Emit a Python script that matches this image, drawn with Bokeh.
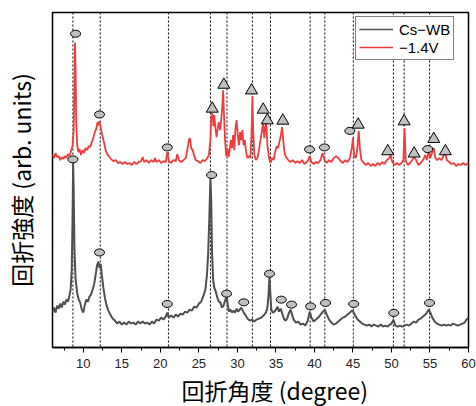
import numpy as np
from bokeh.plotting import figure
from bokeh.models import Span, Title, Legend, LegendItem, FixedTicker
from bokeh.embed import file_html
from bokeh.resources import INLINE

# ---------------- data ----------------
# Red curve: -1.4V  (2theta in degrees, intensity in arb. units)
red_x = [6.0, 6.2, 6.4, 6.6, 6.8, 7.0, 7.2, 7.4, 7.6, 7.8, 8.0, 8.2, 8.4, 8.6, 8.75, 8.85, 8.92, 9.0, 9.08, 9.2,
         9.35, 9.5, 9.7, 9.9, 10.1, 10.3, 10.5, 10.7, 10.9, 11.1, 11.3, 11.5, 11.7, 11.85, 12.0, 12.1, 12.25, 12.4,
         12.55, 12.7, 12.9, 13.1, 13.3, 13.6, 13.9, 14.2, 14.5, 14.8, 15.1, 15.4, 15.7, 16.0, 16.3, 16.6, 16.9,
         17.2, 17.5, 17.7, 17.9, 18.2, 18.5, 18.8, 19.1, 19.3, 19.5, 19.8, 20.1, 20.4, 20.7, 20.9, 21.1, 21.4,
         21.7, 22.0, 22.2, 22.4, 22.7, 23.0, 23.3, 23.5, 23.7, 23.85, 24.0, 24.2, 24.4, 24.6, 24.9, 25.2, 25.5,
         25.8, 26.1, 26.3, 26.5, 26.6, 26.75, 26.9, 27.0, 27.15, 27.3, 27.45, 27.6, 27.75, 27.9, 28.05, 28.15,
         28.25, 28.4, 28.55, 28.7, 28.85, 29.0, 29.15, 29.3, 29.45, 29.6, 29.75, 29.9, 30.05, 30.2, 30.35, 30.5,
         30.65, 30.8, 30.95, 31.1, 31.3, 31.5, 31.7, 31.85, 31.95, 32.05, 32.2, 32.4, 32.6, 32.8, 33.0, 33.2,
         33.35, 33.5, 33.6, 33.75, 33.9, 34.1, 34.3, 34.5, 34.7, 34.9, 35.1, 35.3, 35.5, 35.65, 35.8, 35.95,
         36.1, 36.3, 36.6, 36.9, 37.2, 37.5, 37.8, 38.1, 38.4, 38.7, 39.0, 39.2, 39.4, 39.6, 39.9, 40.2, 40.5,
         40.8, 41.05, 41.3, 41.6, 41.9, 42.2, 42.5, 42.8, 43.1, 43.4, 43.7, 44.0, 44.3, 44.6, 44.85, 45.0, 45.15,
         45.35, 45.55, 45.75, 45.9, 46.1, 46.4, 46.7, 47.0, 47.3, 47.6, 47.9, 48.2, 48.5, 48.8, 49.1, 49.4, 49.7,
         49.9, 50.1, 50.4, 50.7, 51.0, 51.3, 51.55, 51.7, 51.85, 52.1, 52.4, 52.7, 53.0, 53.2, 53.5, 53.8, 54.1,
         54.4, 54.6, 54.85, 55.05, 55.3, 55.5, 55.7, 55.95, 56.2, 56.5, 56.8, 57.0, 57.2, 57.5, 57.8, 58.1, 58.4,
         58.7, 59.0, 59.3, 59.6, 60.0]
red_y = [193, 190, 195, 191, 192, 188, 191, 189, 192, 190, 194, 192, 197, 202, 218, 268, 306, 278, 228, 203,
         196, 199, 193, 198, 195, 200, 198, 202, 201, 206, 210, 216, 220, 226, 223, 227, 221, 215,
         210, 205, 198, 194, 192, 189, 187, 188, 185, 186, 184, 186, 184, 185, 183, 186, 184,
         186, 187, 191, 186, 188, 185, 188, 186, 190, 186, 188, 185, 187, 186, 196, 187, 185,
         188, 187, 194, 188, 186, 188, 190, 198, 208, 210, 200, 198, 192, 188, 187, 185, 188,
         187, 190, 193, 208, 230, 235, 222, 233, 220, 211, 220, 226, 218, 228, 243, 258,
         236, 208, 192, 200, 191, 198, 208, 200, 213, 198, 220, 228, 213, 203, 216, 208,
         218, 203, 208, 198, 190, 192, 190, 218, 252, 218, 193, 188, 190, 198, 208, 218,
         225, 210, 220, 225, 203, 190, 185, 190, 188, 196, 202, 200, 208, 213, 221, 208,
         196, 191, 188, 186, 188, 185, 187, 185, 188, 184, 186, 188, 192, 186, 184, 186, 185,
         188, 195, 188, 185, 188, 186, 190, 192, 190, 187, 185, 188, 186, 190, 200, 210, 193,
         190, 198, 217, 200, 188, 185, 183, 185, 182, 184, 182, 185, 183, 186, 184, 188, 190,
         193, 186, 183, 185, 183, 185, 188, 220, 188, 183, 185, 188, 191, 188, 183, 185, 188,
         193, 188, 198, 190, 196, 200, 190, 188, 190, 188, 193, 194, 188, 186, 184, 185, 182,
         184, 183, 185, 183, 185]

# Black curve: Cs-WB
blk_x = [6.0, 6.2, 6.4, 6.6, 6.8, 7.0, 7.2, 7.4, 7.6, 7.8, 8.0, 8.2, 8.35, 8.5, 8.6, 8.68, 8.75, 8.85, 9.0, 9.2,
         9.4, 9.6, 9.8, 10.0, 10.2, 10.4, 10.6, 10.8, 11.0, 11.2, 11.4, 11.6, 11.8, 11.95, 12.1, 12.25, 12.4,
         12.6, 12.8, 13.0, 13.2, 13.5, 13.8, 14.1, 14.4, 14.7, 15.0, 15.3, 15.6, 15.9, 16.2, 16.5, 16.8, 17.1,
         17.4, 17.7, 18.0, 18.3, 18.6, 18.9, 19.2, 19.5, 19.8, 20.1, 20.4, 20.7, 20.9, 21.1, 21.4, 21.7, 22.0,
         22.3, 22.6, 22.9, 23.2, 23.5, 23.8, 24.1, 24.4, 24.7, 25.0, 25.3, 25.6, 25.85, 26.05, 26.2, 26.35, 26.5,
         26.6, 26.7, 26.85, 27.0, 27.2, 27.4, 27.6, 27.8, 28.0, 28.2, 28.45, 28.6, 28.75, 28.9, 29.1, 29.3, 29.5,
         29.7, 29.9, 30.1, 30.3, 30.5, 30.7, 30.9, 31.1, 31.3, 31.6, 31.9, 32.2, 32.5, 32.8, 33.1, 33.4, 33.7,
         33.9, 34.05, 34.15, 34.25, 34.4, 34.6, 34.8, 35.0, 35.2, 35.4, 35.6, 35.75, 35.9, 36.1, 36.3, 36.5,
         36.7, 36.9, 37.1, 37.3, 37.6, 37.9, 38.2, 38.5, 38.8, 39.1, 39.4, 39.6, 39.9, 40.2, 40.5, 40.8, 41.1,
         41.35, 41.6, 41.9, 42.2, 42.5, 42.8, 43.1, 43.4, 43.7, 44.0, 44.3, 44.6, 44.85, 45.05, 45.3, 45.6,
         45.9, 46.2, 46.5, 46.8, 47.1, 47.4, 47.7, 48.0, 48.3, 48.6, 48.9, 49.2, 49.5, 49.8, 50.0, 50.25, 50.5,
         50.8, 51.1, 51.4, 51.7, 52.0, 52.3, 52.6, 52.9, 53.2, 53.5, 53.8, 54.1, 54.4, 54.6, 54.85, 55.05, 55.3,
         55.6, 55.9, 56.2, 56.5, 56.8, 57.1, 57.4, 57.7, 58.0, 58.3, 58.6, 58.9, 59.2, 59.5, 59.75, 60.0]
blk_y = [36, 40, 35, 42, 39, 44, 40, 46, 43, 48, 46, 52, 58, 78, 128, 185, 158, 98, 68, 55,
         48, 45, 38, 35, 43, 48, 46, 51, 53, 58, 63, 73, 83, 86, 80, 84, 73,
         60, 50, 43, 38, 33, 29, 27, 24, 26, 23, 25, 23, 26, 24, 25, 23, 26,
         24, 26, 24, 25, 23, 26, 24, 28, 27, 30, 28, 31, 35, 30, 32, 30, 33,
         31, 34, 33, 36, 35, 38, 37, 41, 40, 44, 46, 52, 58, 73, 93, 128, 170,
         148, 98, 68, 60, 56, 50, 46, 45, 40, 42, 48, 51, 43, 36, 38, 35, 37,
         35, 39, 36, 38, 40, 37, 34, 32, 29, 27, 28, 26, 28, 29, 30, 32, 35,
         40, 53, 70, 58, 38, 35, 36, 38, 41, 36, 39, 36, 32, 28, 27, 30,
         35, 38, 33, 28, 25, 26, 23, 24, 22, 26, 36, 30, 26, 28, 30, 33, 36,
         38, 33, 28, 25, 23, 24, 26, 28, 30, 31, 33, 35, 37, 36, 32, 28,
         26, 24, 23, 22, 23, 21, 23, 22, 21, 23, 21, 22, 21, 23, 24, 28, 22,
         21, 22, 21, 22, 23, 22, 24, 26, 25, 28, 29, 31, 33, 35, 38, 35, 30,
         26, 24, 23, 22, 23, 22, 23, 22, 24, 23, 22, 23, 24, 25, 28, 30]

# Reference lines (2theta, degrees)
ref_lines = [8.65, 12.2, 21.05, 26.5, 28.65, 31.95, 34.3, 39.45, 41.35, 45.05, 50.25, 51.65, 54.95]

# Peak markers: circles on red curve
red_circ_x = [9.0, 12.1, 20.9, 39.37, 41.3, 44.6, 54.7]
red_circ_y = [314.7, 233.7, 200.7, 198.7, 200.7, 217.3, 199.0]
# circles on black curve
blk_circ_x = [8.65, 12.1, 20.9, 26.65, 28.6, 30.83, 34.16, 35.7, 37.03, 39.5, 41.44, 45.1, 50.3, 54.94]
blk_circ_y = [188.7, 95.3, 43.7, 173.0, 54.0, 45.3, 74.0, 48.0, 43.0, 41.3, 44.7, 43.7, 34.7, 44.7]
# triangles on red curve
tri_x = [26.74, 28.24, 31.84, 33.35, 33.88, 35.9, 45.68, 49.52, 51.64, 52.94, 55.49, 57.0]
tri_y = [239.5, 263.5, 257.8, 238.5, 227.8, 227.5, 223.5, 196.8, 226.8, 194.5, 209.1, 196.8]

x_ticks = [10, 15, 20, 25, 30, 35, 40, 45, 50, 55, 60]
x_minor = [7.5, 12.5, 17.5, 22.5, 27.5, 32.5, 37.5, 42.5, 47.5, 52.5, 57.5]

x_title = "回折角度 (degree)"
y_title = "回折強度 (arb. units)"
labels = ["Cs−WB", "−1.4V"]

blk_color = "#4f4f4f"
red_color = "#f03c3c"

# ---------------- figure ----------------
p = figure(width=476, height=406, x_range=(6, 60), y_range=(0, 336),
           output_backend="svg", toolbar_location=None,
           min_border_left=52, min_border_right=8, min_border_top=12, min_border_bottom=58)
p.background_fill_color = "white"
p.border_fill_color = "white"
p.outline_line_color = "black"
p.outline_line_width = 1.5
p.xgrid.visible = False
p.ygrid.visible = False

jp_font = "Noto Sans CJK JP"

# y axis: only its title
ya = p.yaxis[0]
ya.ticker = FixedTicker(ticks=[])
ya.axis_line_color = None
ya.major_tick_line_color = None
ya.minor_tick_line_color = None
ya.major_tick_in = 0
ya.major_tick_out = 0
ya.minor_tick_in = 0
ya.minor_tick_out = 0
ya.major_label_text_font_size = "0px"
ya.major_label_standoff = 0
ya.axis_label = y_title
ya.axis_label_text_font = jp_font
ya.axis_label_text_font_size = "23px"
ya.axis_label_text_font_style = "normal"
ya.axis_label_text_color = "black"
ya.axis_label_standoff = 15

ax = p.xaxis[0]
ax.ticker = FixedTicker(ticks=x_ticks, minor_ticks=x_minor)
ax.axis_line_color = "black"
ax.axis_line_width = 1.5
ax.major_tick_in = 0
ax.major_tick_out = 5
ax.minor_tick_in = 0
ax.minor_tick_out = 3
ax.major_tick_line_color = "black"
ax.minor_tick_line_color = "black"
ax.major_label_text_font = "Liberation Sans"
ax.major_label_text_font_size = "13px"
ax.major_label_text_color = "#222222"
ax.major_label_standoff = 6

p.add_layout(Title(text=x_title, align="left", offset=129, standoff=0,
                   text_font=jp_font, text_font_size="23px", text_font_style="normal",
                   text_color="black"), "below")

for xv in ref_lines:
    p.add_layout(Span(location=xv, dimension="height", line_color="black",
                      line_width=1, line_dash="2 2", level="underlay"))

p.line(blk_x, blk_y, line_color=blk_color, line_width=2)
p.line(red_x, red_y, line_color=red_color, line_width=1.8)

mk_fill = "#bfbfbf"
p.ellipse(x=red_circ_x, y=red_circ_y, width=10, height=7, width_units="screen", height_units="screen",
          fill_color=mk_fill, line_color="black", line_width=1)
p.ellipse(x=blk_circ_x, y=blk_circ_y, width=10, height=7, width_units="screen", height_units="screen",
          fill_color=mk_fill, line_color="black", line_width=1)
p.scatter(x=tri_x, y=tri_y, marker="triangle", size=12, fill_color=mk_fill, line_color="black", line_width=1)

# thin legend samples (single-point lines: nothing drawn in the plot area)
lg_blk = p.line(blk_x[:1], blk_y[:1], line_color=blk_color, line_width=1.3)
lg_red = p.line(red_x[:1], red_y[:1], line_color=red_color, line_width=1.3)

legend = Legend(items=[LegendItem(label=labels[0], renderers=[lg_blk]),
                       LegendItem(label=labels[1], renderers=[lg_red])],
                location=(303, 287))
legend.border_line_color = "black"
legend.border_line_width = 1
legend.background_fill_color = "white"
legend.background_fill_alpha = 1
legend.padding = 3
legend.spacing = 0
legend.margin = 0
legend.label_standoff = 6
legend.glyph_width = 34
legend.glyph_height = 18
legend.label_height = 18
legend.label_text_font = "Liberation Sans"
legend.label_text_font_size = "15px"
legend.label_text_color = "black"
p.add_layout(legend, "center")

open("out.html", "w").write(file_html(p, INLINE))
